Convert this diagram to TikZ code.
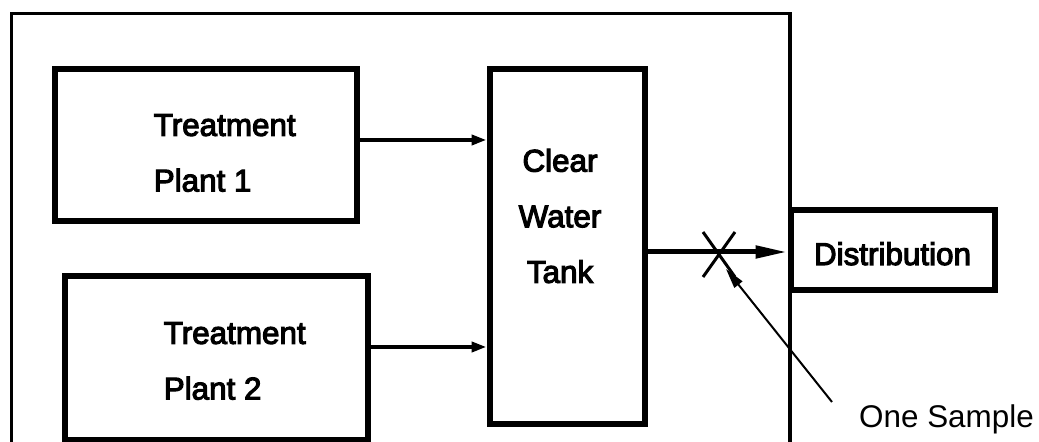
\documentclass[tikz,border=0pt]{standalone}
\usepackage{fontspec}
\setmainfont{Liberation Sans}
\newfontfamily\unitfont{Liberation Sans}[FakeBold=3.5]
\usetikzlibrary{arrows.meta}
\definecolor{sline}{HTML}{000000}

\begin{document}
\begin{tikzpicture}[x=0.5pt,y=-0.5pt,line width=1.75pt,
  unit/.style={draw=sline,line width=3pt,inner sep=0pt},
  lbl/.style={align=left,inner sep=0pt,font=\unitfont\fontsize{15.7}{27.8}\selectfont},
  feed/.style={draw=sline,line width=1.9pt,-{Triangle[length=7.5pt,width=5pt]}},
  outflow/.style={draw=sline,line width=2.5pt,-{Triangle[length=16pt,width=6pt]}},
  probe/.style={draw=sline,line width=1pt,-{Triangle[length=10pt,width=5pt]}}]
\useasboundingbox (0,0) rectangle (1039,442);
\clip (0,0) rectangle (1039,442);
\draw[draw=sline] (11.5,460) |- (790,13.5) -- (790,460);
\node[unit,minimum width=151pt,minimum height=76pt] (tp1) at (206,145) {};
\node[unit,minimum width=151.5pt,minimum height=82pt] (tp2) at (216.5,358) {};
\node[unit,minimum width=77.5pt,minimum height=177.5pt] (tank) at (567,247) {};
\node[unit,fill=white,minimum width=102pt,minimum height=40pt,text height=14.5pt,text depth=0pt,font=\unitfont\fontsize{15.7}{27.8}\selectfont] (dist) at (892.5,250.5) {Distribution};
\node[lbl,anchor=west] (tp1lbl) at (152,153) {Treatment\\Plant 1};
\node[lbl,anchor=west] (tp2lbl) at (162,361) {Treatment\\Plant 2};
\node[lbl,align=center] (tanklbl) at (560,216) {Clear\\Water\\Tank};
\node[anchor=base,inner sep=0pt,font=\fontsize{15.7}{27.8}\selectfont] (onesmp) at (946.5,428) {One Sample};
\draw[feed] (tp1.east |- 0,140) -- (tank.west |- 0,140);
\draw[feed] (tp2.east |- 0,347) -- (tank.west |- 0,347);
\draw[outflow] (tank.east |- 0,252) -- (dist.west |- 0,252);
\coordinate (smp) at (719,254.5);
\draw[line width=1.5pt] (smp) ++(-16,-22.5) -- ++(32,45);
\draw[line width=1.5pt] (smp) ++(16,-22.5) -- ++(-32,45);
\coordinate (tail) at (832,402);
\coordinate (tip) at (726,269);
\draw[probe] (tail) -- (tip);
\end{tikzpicture}
\end{document}
